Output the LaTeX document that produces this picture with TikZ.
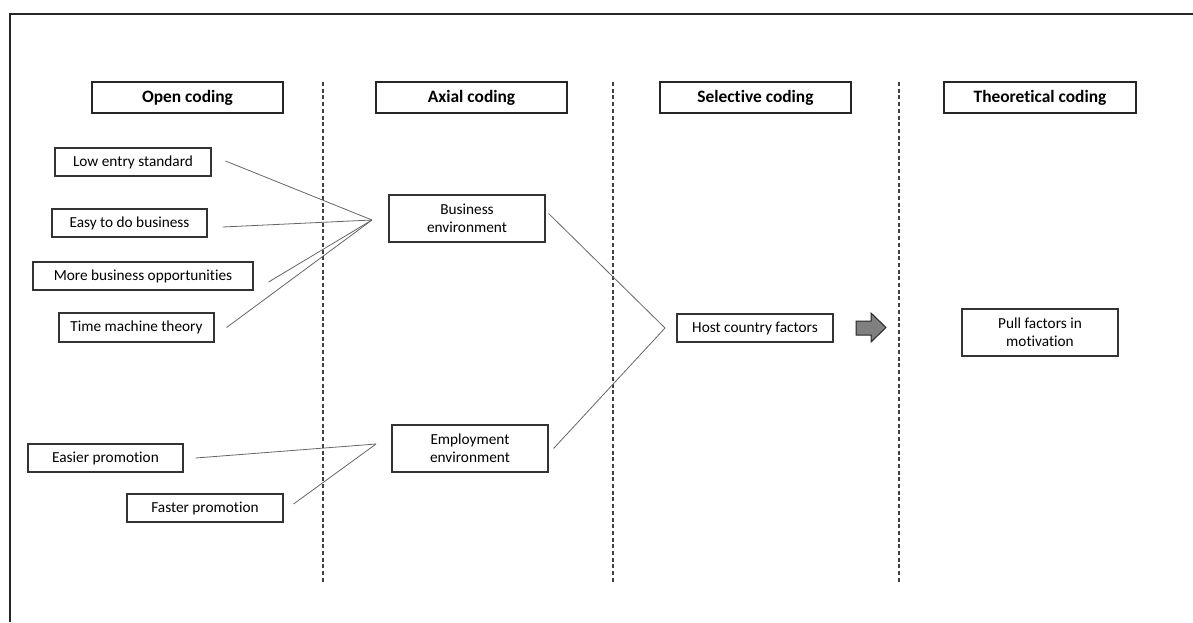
\documentclass[tikz,border=0pt]{standalone}
\usepackage{fontspec}
\setmainfont[Ligatures=NoCommon]{Carlito}
\begin{document}
\begin{tikzpicture}[x=1pt,y=-1pt,
  header/.style={draw=black!85, line width=1.5pt, minimum width=191pt, minimum height=31pt, inner sep=0pt,
    font=\fontsize{17.4}{20}\selectfont\bfseries},
  codebox/.style={draw=black!80, line width=1.1pt, minimum width=156pt, minimum height=28pt, inner sep=0pt,
    align=center, font=\fontsize{15.3}{18}\selectfont},
  tallbox/.style={codebox, minimum height=47pt},
  link/.style={draw=black!60, line width=0.8pt},
  divider/.style={draw=black!75, line width=1.1pt, dash pattern=on 4pt off 2.7pt},
  frame/.style={draw=black!85, line width=1.8pt}
]
\useasboundingbox (0,0) rectangle (1193,622);
% outer frame (partly cut)
\draw[frame] (10,622) -- (10,14) -- (1193,14);

% dividers
\coordinate (d1t) at (323,82); \coordinate (d1b) at (323,583);
\coordinate (d2t) at (613,82); \coordinate (d2b) at (613,583);
\coordinate (d3t) at (899,82); \coordinate (d3b) at (899,583);
\draw[divider] (d1t) -- (d1b);
\draw[divider] (d2t) -- (d2b);
\draw[divider] (d3t) -- (d3b);

% headers
\node[header] (hOpen) at (187.5,97.5) {Open coding};
\node[header] (hAxial) at (471.5,97.5) {Axial coding};
\node[header] (hSel) at (755.5,97.5) {Selective coding};
\node[header, minimum width=192pt] (hTheo) at (1040,97.5) {Theoretical coding};

% open codes
\node[codebox] (low) at (133,162) {Low entry standard};
\node[codebox, minimum width=155pt] (easy) at (129.5,223) {Easy to do business};
\node[codebox, minimum width=220pt] (more) at (143,276) {More business opportunities};
\node[codebox, minimum width=155pt, minimum height=29pt] (time) at (136.5,327.5) {Time machine theory};
\node[codebox, minimum width=155pt] (easier) at (105.5,458) {Easier promotion};
\node[codebox] (faster) at (205,508) {Faster promotion};

% axial codes
\node[tallbox] (busenv) at (467,218.5) {Business\\environment};
\node[tallbox] (empenv) at (470,448.5) {Employment\\environment};

% selective / theoretical
\node[codebox] (host) at (755,328) {Host country factors};
\node[tallbox, minimum width=156pt] (pull) at (1040,332.5) {Pull factors in\\motivation};

% junction points
\coordinate (j1) at (372,220);
\coordinate (j2) at (665,328);
\coordinate (j3) at (376,444);

% connectors
\draw[link] ([xshift=14pt,yshift=1pt]low.east) -- (j1);
\draw[link] ([xshift=15pt,yshift=-4pt]easy.east) -- (j1);
\draw[link] ([xshift=15pt,yshift=-6pt]more.east) -- (j1);
\draw[link] ([xshift=12pt]time.east) -- (j1);
\draw[link] ([xshift=12pt]easier.east) -- (j3);
\draw[link] ([xshift=10pt,yshift=4pt]faster.east) -- (j3);
\draw[link] ([xshift=3pt,yshift=5pt]busenv.east) -- (j2);
\draw[link] ([xshift=5pt]empenv.east) -- (j2);

% block arrow
\draw[draw=black!85, line width=1pt, fill=black!50]
  (856,321) -- (871,321) -- (871,313) -- (886,327.5) -- (871,342) -- (871,335) -- (856,335) -- cycle;
\end{tikzpicture}
\end{document}
